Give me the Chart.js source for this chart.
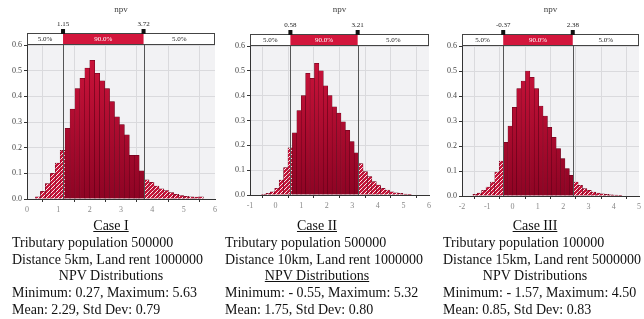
<!DOCTYPE html>
<html>
<head>
<meta charset="utf-8">
<script src="https://cdn.jsdelivr.net/npm/chart.js@4.4.1/dist/chart.umd.min.js"></script>
<style>
  body { margin: 0; background: #fff; width: 644px; height: 319px; position: relative; overflow: hidden;
         font-family: "Liberation Serif", "Times New Roman", serif; }
  .box { position: absolute; top: 0; height: 220px; }
  .cap { position: absolute; top: 218px; font-size: 14px; line-height: 16.8px; color: #111; white-space: nowrap; }
  .c { text-align: center; }
  .u { text-decoration: underline; }
</style>
</head>
<body>
<div class="box" style="left:0;width:220px"><canvas id="case1" width="220" height="220"></canvas></div>
<div class="box" style="left:218px;width:216px"><canvas id="case2" width="216" height="220"></canvas></div>
<div class="box" style="left:434px;width:210px"><canvas id="case3" width="210" height="220"></canvas></div>

<div class="cap" style="left:12px;width:198px">
  <div class="c"><span class="u">Case I</span></div>
  <div>Tributary population 500000</div>
  <div>Distance 5km, Land rent 1000000</div>
  <div class="c">NPV Distributions</div>
  <div>Minimum: 0.27, Maximum: 5.63</div>
  <div>Mean: 2.29, Std Dev: 0.79</div>
</div>
<div class="cap" style="left:225px;width:184px">
  <div class="c"><span class="u">Case II</span></div>
  <div>Tributary population 500000</div>
  <div>Distance 10km, Land rent 1000000</div>
  <div class="c"><span class="u">NPV Distributions</span></div>
  <div>Minimum: - 0.55, Maximum: 5.32</div>
  <div>Mean: 1.75, Std Dev: 0.80</div>
</div>
<div class="cap" style="left:443px;width:184px">
  <div class="c"><span class="u">Case III</span></div>
  <div>Tributary population 100000</div>
  <div>Distance 15km, Land rent 5000000</div>
  <div class="c">NPV Distributions</div>
  <div>Minimum: - 1.57, Maximum: 4.50</div>
  <div>Mean: 0.85, Std Dev: 0.83</div>
</div>

<script>
// histogram heights (relative frequency)
const npv1 = [0.008, 0.03, 0.06, 0.1, 0.14, 0.19, 0.275, 0.35, 0.43, 0.47, 0.51, 0.54,
  0.49, 0.46, 0.43, 0.38, 0.32, 0.29, 0.25, 0.17, 0.17, 0.11, 0.075, 0.065, 0.05, 0.04,
  0.033, 0.025, 0.018, 0.013, 0.01, 0.008, 0.007, 0.008];
const npv2 = [0.003, 0.007, 0.013, 0.027, 0.06, 0.11, 0.19, 0.25, 0.34, 0.40, 0.49, 0.47,
  0.53, 0.50, 0.44, 0.40, 0.355, 0.33, 0.295, 0.26, 0.215, 0.17, 0.127, 0.094, 0.074,
  0.054, 0.04, 0.027, 0.02, 0.013, 0.009, 0.007, 0.004, 0.003];
const npv3 = [0.007, 0.012, 0.023, 0.036, 0.056, 0.096, 0.14, 0.215, 0.28, 0.355, 0.43,
  0.46, 0.50, 0.475, 0.43, 0.36, 0.32, 0.275, 0.235, 0.19, 0.15, 0.11, 0.083, 0.056,
  0.043, 0.03, 0.023, 0.016, 0.012, 0.009, 0.007, 0.005, 0.004, 0.003, 0.002];

const npvMin = [0.27, -0.55, -1.57];
const npvMax = [5.63, 5.32, 4.50];
const p5 = [1.15, 0.58, -0.37];   // left marker
const p95 = [3.72, 3.21, 2.38];   // right marker
const axisMin = [0, -1, -2];
const axisMax = [6, 6, 5];
const bandLabels = ['5.0%', '90.0%', '5.0%'];

// plot geometry per panel (y-axis width, x-axis height, top, right padding)
const geom = [
  { yw: 27, xh: 21, top: 45, pr: 3 },
  { yw: 32, xh: 25, top: 46, pr: 4 },
  { yw: 28, xh: 24, top: 46, pr: 4 }
];

function makeHatch() {
  const c = document.createElement('canvas');
  c.width = 4; c.height = 4;
  const g = c.getContext('2d');
  g.fillStyle = '#c8143a';
  g.fillRect(0, 0, 4, 4);
  g.strokeStyle = 'rgba(255,255,255,0.9)';
  g.lineWidth = 1;
  g.beginPath();
  g.moveTo(0, 4); g.lineTo(4, 0);
  g.moveTo(-1, 1); g.lineTo(1, -1);
  g.moveTo(3, 5); g.lineTo(5, 3);
  g.stroke();
  return g.createPattern(c, 'repeat');
}
const hatch = makeHatch();

const bandPlugin = {
  id: 'band',
  beforeDraw(chart) {
    const a = chart.chartArea, c = chart.ctx;
    c.save();
    c.fillStyle = '#f2f2f4';
    c.fillRect(a.left, a.top, a.right - a.left, a.bottom - a.top);
    c.restore();
  },
  afterDatasetsDraw(chart, args, o) {
    const a = chart.chartArea, c = chart.ctx, x = chart.scales.x;
    c.save();
    c.strokeStyle = '#555';
    c.lineWidth = 1;
    [o.lo, o.hi].forEach(v => {
      const px = Math.round(x.getPixelForValue(v)) + 0.5;
      c.beginPath(); c.moveTo(px, a.top - 1); c.lineTo(px, a.bottom); c.stroke();
    });
    c.restore();
  },
  afterDraw(chart, args, o) {
    const a = chart.chartArea, c = chart.ctx, x = chart.scales.x;
    const top = a.top - 12, h = 11;
    const xl = x.getPixelForValue(o.lo), xr = x.getPixelForValue(o.hi);
    c.save();
    c.fillStyle = '#fff';
    c.fillRect(a.left, top, a.right - a.left, h);
    c.fillStyle = '#d3163c';
    c.fillRect(xl, top, xr - xl, h);
    c.strokeStyle = '#444';
    c.lineWidth = 1;
    c.strokeRect(a.left + 0.5, top + 0.5, a.right - a.left - 1, h);
    c.font = '7px "Liberation Serif", serif';
    c.textAlign = 'center';
    c.textBaseline = 'middle';
    c.fillStyle = '#222';
    c.fillText(bandLabels[0], (a.left + xl) / 2, top + h / 2 + 1);
    c.fillText(bandLabels[2], (xr + a.right) / 2, top + h / 2 + 1);
    c.fillStyle = '#fff';
    c.fillText(bandLabels[1], (xl + xr) / 2, top + h / 2 + 1);
    // markers
    c.fillStyle = '#111';
    [[xl, o.lo], [xr, o.hi]].forEach(([px, v]) => {
      c.fillRect(px - 2, top - 4, 4, 5);
      c.fillStyle = '#222';
      c.fillText(v.toFixed(2), px, top - 9);
      c.fillStyle = '#111';
    });
    c.fillStyle = '#444';
    c.font = '9px "Liberation Serif", serif';
    c.fillText(o.title, (a.left + a.right) / 2, 10);
    c.restore();
  }
};

function makeChart(id, i, values) {
  const g = geom[i];
  const w = (npvMax[i] - npvMin[i]) / values.length;
  const points = values.map((v, k) => ({ x: npvMin[i] + (k + 0.5) * w, y: v }));
  let grad = null;
  return new Chart(document.getElementById(id), {
    type: 'bar',
    data: {
      datasets: [{
        data: points,
        barPercentage: 1,
        categoryPercentage: 1,
        borderWidth: 0.5,
        borderColor: '#5e0016',
        backgroundColor: (ctx) => {
          const p = ctx.raw;
          if (!p) return '#b5092e';
          if (p.x < p5[i] || p.x > p95[i]) return hatch;
          const a = ctx.chart.chartArea;
          if (!a) return '#b5092e';
          if (!grad) {
            grad = ctx.chart.ctx.createLinearGradient(0, a.top, 0, a.bottom);
            grad.addColorStop(0, '#d0143c');
            grad.addColorStop(1, '#8e0424');
          }
          return grad;
        }
      }]
    },
    options: {
      responsive: false,
      animation: false,
      layout: { padding: { top: g.top, right: g.pr, left: 0, bottom: 0 } },
      plugins: {
        legend: { display: false },
        tooltip: { enabled: false },
        band: { lo: p5[i], hi: p95[i], title: 'npv' }
      },
      scales: {
        x: {
          type: 'linear',
          min: axisMin[i],
          max: axisMax[i],
          offset: false,
          afterFit: s => { s.height = g.xh; },
          ticks: { stepSize: 1, color: '#888', font: { size: 8, family: 'Liberation Serif' }, padding: 3 },
          grid: { color: '#dadadd', tickLength: 3, tickColor: '#333' },
          border: { color: '#333' }
        },
        y: {
          min: 0,
          max: 0.6,
          afterFit: s => { s.width = g.yw; },
          ticks: { stepSize: 0.1, color: '#444', font: { size: 8, family: 'Liberation Serif' }, padding: 2,
                   callback: v => v.toFixed(1) },
          grid: { color: '#dadadd', tickLength: 3, tickColor: '#333' },
          border: { color: '#333' }
        }
      }
    },
    plugins: [bandPlugin]
  });
}

makeChart('case1', 0, npv1);
makeChart('case2', 1, npv2);
makeChart('case3', 2, npv3);
</script>
</body>
</html>
